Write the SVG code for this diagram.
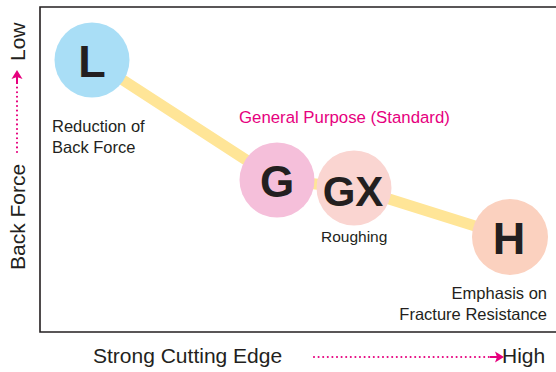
<svg xmlns="http://www.w3.org/2000/svg" width="556" height="372" viewBox="0 0 556 372">
<style>
.lbl{font-family:"Liberation Sans",Arial,sans-serif;font-size:16.5px;fill:#231f20}
.big{font-family:"Liberation Sans",Arial,sans-serif;font-weight:bold;fill:#231f20;text-anchor:middle}
.pink{fill:#e6007e}
.axis{font-family:"Liberation Sans",Arial,sans-serif;font-size:21px;fill:#231f20}
.dots{stroke:#e6007e;stroke-width:2.1;stroke-linecap:round;stroke-dasharray:0 4.6;fill:none}
.stem{stroke:#e6007e;stroke-width:2;fill:none}
.head{fill:#e6007e}
</style>
<rect width="556" height="372" fill="#ffffff"/>
<g id="frame">
<path d="M 570 7 L 40 7 L 40 332 L 570 332" fill="none" stroke="#231f20" stroke-width="1.6"/>
</g>
<g id="connectors">
<polyline points="92,60 277,180 354,188 510,237" fill="none" stroke="#ffe597" stroke-width="11" stroke-linejoin="round"/>
</g>
<g id="node-L">
<circle cx="92" cy="60" r="37.5" fill="#a9def6"/>
<text class="big" x="92" y="77" font-size="45">L</text>
<text class="lbl" x="52" y="131.5">Reduction of</text>
<text class="lbl" x="52" y="152.5">Back Force</text>
</g>
<g id="node-G">
<circle cx="277" cy="180" r="37.5" fill="#f5bfda"/>
<text class="big" x="277" y="196.5" font-size="44">G</text>
</g>
<g id="node-GX">
<circle cx="354" cy="188" r="37.5" fill="#fad5d1"/>
<text class="big" x="353" y="206" font-size="42">GX</text>
<text class="lbl" x="321" y="242" style="font-size:15.5px">Roughing</text>
</g>
<g id="node-H">
<circle cx="510" cy="237" r="38" fill="#fbd1bf"/>
<text class="big" x="509" y="254" font-size="45">H</text>
<text class="lbl" x="547" y="299" text-anchor="end">Emphasis on</text>
<text class="lbl" x="547" y="320" text-anchor="end">Fracture Resistance</text>
</g>
<g id="group-label">
<text class="lbl pink" x="239" y="123" style="font-size:16.8px">General Purpose (Standard)</text>
</g>
<g id="x-axis">
<text class="axis" x="93" y="363">Strong Cutting Edge</text>
<line class="dots" x1="314" y1="357" x2="489" y2="357"/>
<line class="stem" x1="490" y1="357" x2="499" y2="357"/>
<path class="head" d="M 504 357 L 495 351.5 L 497 357 L 495 362.5 Z"/>
<text class="axis pink" x="502" y="363">High</text>
</g>
<g id="y-axis">
<text class="axis" transform="translate(25,270) rotate(-90)">Back Force</text>
<line class="dots" x1="17" y1="152" x2="17" y2="85"/>
<line class="stem" x1="17" y1="84" x2="17" y2="75"/>
<path class="head" d="M 17 70 L 11.5 79 L 17 77 L 22.5 79 Z"/>
<text class="axis pink" transform="translate(25,61) rotate(-90)">Low</text>
</g>
</svg>
